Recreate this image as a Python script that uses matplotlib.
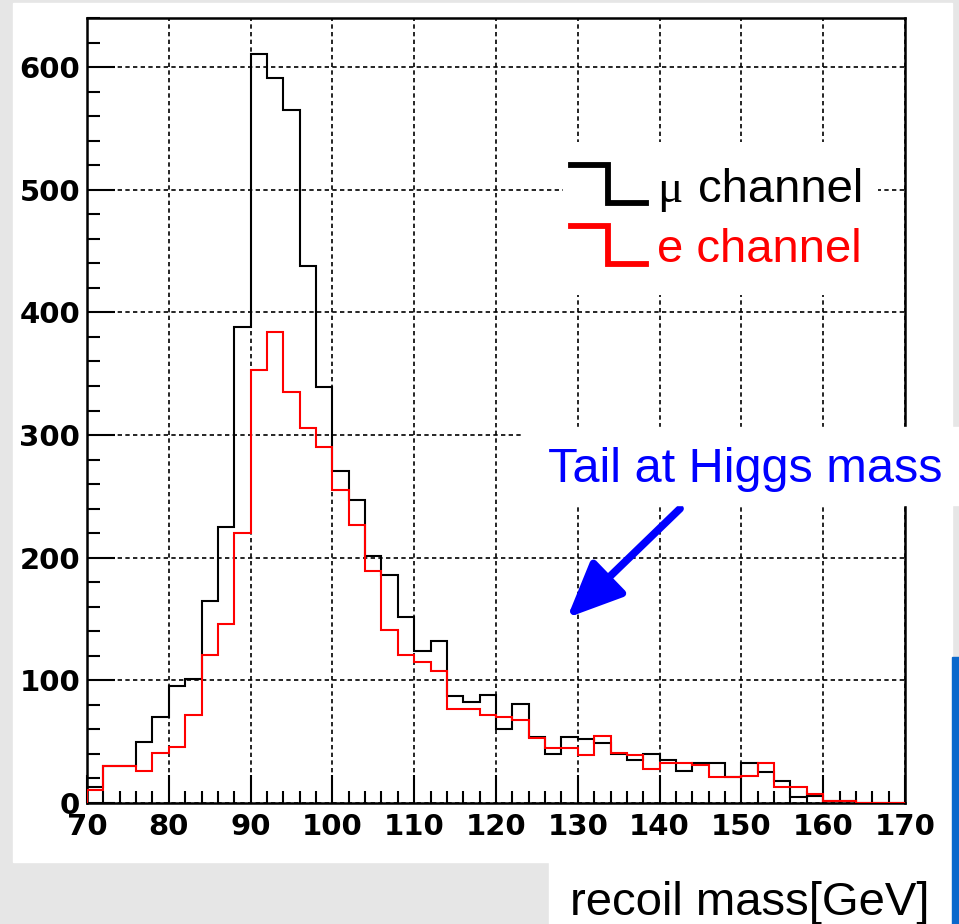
import numpy as np
import matplotlib
matplotlib.use("Agg")
import matplotlib.pyplot as plt
from matplotlib.patches import Rectangle
from matplotlib.ticker import MultipleLocator

# bin edges: 70 .. 170 GeV, 2 GeV bins
edges = np.arange(70, 172, 2)

# mu channel (black)
mu_counts = [13, 30, 30, 50, 70, 95, 101, 165, 225, 388,
             611, 591, 565, 438, 339, 271, 247, 201, 186, 152,
             124, 132, 87, 82, 88, 60, 81, 54, 40, 54,
             52, 49, 40, 35, 40, 35, 26, 33, 33, 21,
             33, 25, 18, 5, 6, 2, 2, 0, 0, 0]

# e channel (red)
e_counts = [11, 30, 30, 26, 41, 46, 72, 121, 146, 220,
            353, 384, 335, 306, 290, 255, 227, 189, 141, 121,
            115, 108, 77, 77, 72, 70, 68, 53, 45, 45,
            39, 55, 41, 39, 28, 33, 33, 31, 21, 21,
            22, 33, 13, 13, 7, 2, 2, 0, 0, 0]

xticks = [70, 80, 90, 100, 110, 120, 130, 140, 150, 160, 170]
yticks = [0, 100, 200, 300, 400, 500, 600]

W, H = 959, 924


def px(x, y):
    # pixel position -> figure fraction
    return x / W, 1 - y / H


fig = plt.figure(figsize=(W / 100, H / 100), dpi=100)
fig.patch.set_facecolor('#e6e6e6')

# white panels behind the plot
fig.add_artist(Rectangle(px(13, 862), (952 - 13) / W, (862 - 3) / H,
                         transform=fig.transFigure, color='white', zorder=-1))
fig.add_artist(Rectangle(px(549, 924), (952 - 549) / W, 62 / H,
                         transform=fig.transFigure, color='white', zorder=-1))
fig.add_artist(Rectangle(px(952, 924), 7 / W, (924 - 657) / H,
                         transform=fig.transFigure, color='#0a68cc', zorder=-1))

ax = fig.add_axes([87 / W, 1 - 803 / H, (905 - 87) / W, (803 - 18) / H])
ax.set_facecolor('white')

ax.stairs(mu_counts, edges, color='black', lw=1.5, zorder=3)
ax.stairs(e_counts, edges, color='red', lw=1.5, zorder=4)

ax.set_xlim(70, 170)
ax.set_ylim(0, 640)
ax.set_xticks(xticks)
ax.set_yticks(yticks)
ax.xaxis.set_minor_locator(MultipleLocator(2))
ax.yaxis.set_minor_locator(MultipleLocator(20))
ax.tick_params(which='major', direction='in', length=20, width=1.5,
               top=False, right=False)
ax.tick_params(which='minor', direction='in', length=9, width=1.5,
               top=False, right=False)
ax.tick_params(axis='x', pad=7)
ax.tick_params(axis='y', pad=5)
for lab in ax.get_xticklabels() + ax.get_yticklabels():
    lab.set_fontfamily('DejaVu Sans')
    lab.set_fontweight('bold')
    lab.set_fontsize(21)
for s in ax.spines.values():
    s.set_linewidth(1.8)

ax.grid(True, which='major', color='black', lw=1.2, linestyle=(0, (2.6, 2.0)))
ax.set_axisbelow(True)

# legend box
lax = fig.add_axes([563 / W, 1 - 295 / H, 315 / W, 153 / H])
lax.set_xlim(563, 878)
lax.set_ylim(295, 142)
lax.axis('off')
lax.add_patch(Rectangle((563, 142), 315, 153, color='white', zorder=0))
lax.plot([571, 608, 608, 646], [164.5, 164.5, 203, 203], color='black',
         lw=4.2, solid_joinstyle='miter')
lax.plot([571, 608, 608, 646], [225.5, 225.5, 263.5, 263.5], color='red',
         lw=4.2, solid_joinstyle='miter')

fig.text(*px(657, 202), 'μ', fontsize=34, family='Liberation Serif',
         color='black', va='baseline', ha='left')
fig.text(*px(698, 202), 'channel', fontsize=34, family='Liberation Sans',
         color='black', va='baseline', ha='left')
fig.text(*px(657, 262), 'e channel', fontsize=34, family='Liberation Sans',
         color='red', va='baseline', ha='left')

# annotation box over the plot
fig.add_artist(Rectangle(px(522, 505), (959 - 522) / W, (505 - 427) / H,
                         transform=fig.transFigure, color='white', zorder=5))
fig.text(*px(548, 482), 'Tail at Higgs mass', fontsize=35,
         family='Liberation Sans', color='#0000ff', va='baseline', ha='left',
         zorder=6)

ax.annotate('', xy=(128.7, 151), xytext=(142.5, 240),
            arrowprops=dict(arrowstyle='-|>,head_length=1.7,head_width=0.75',
                            mutation_scale=20, color='#0000ff', lw=5.5,
                            shrinkA=0, shrinkB=0),
            zorder=6)

fig.text(*px(570, 915), 'recoil mass[GeV]', fontsize=34,
         family='Liberation Sans', color='black', va='baseline', ha='left')

fig.savefig('out.png', dpi=100, facecolor=fig.get_facecolor())
